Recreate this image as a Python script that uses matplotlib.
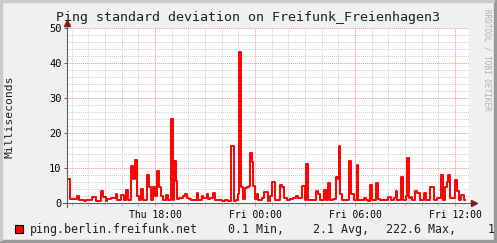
import matplotlib
matplotlib.use("Agg")
import matplotlib.pyplot as plt
from matplotlib.patches import Rectangle

# hours since Thu 12:00, each value holds until the next time (5-min rrd steps merged)
hours = [0.72, 0.90, 1.32, 1.44, 1.74, 1.86, 2.22, 2.46, 2.76, 2.88,
         3.06, 3.12, 3.36, 3.66, 3.72, 3.96, 4.14, 4.26, 4.38, 4.56,
         4.68, 4.80, 4.92, 5.04, 5.16, 5.28, 5.52, 5.64, 5.76, 5.88,
         6.00, 6.12, 6.24, 6.36, 6.48, 6.66, 6.78, 6.96, 7.08, 7.14,
         7.26, 7.32, 7.44, 7.68, 7.80, 7.92, 8.04, 8.16, 8.34, 8.52,
         8.58, 8.82, 8.88, 9.12, 9.18, 9.30, 9.48, 9.60, 9.72, 10.02,
         10.20, 10.38, 10.56, 10.74, 10.86, 10.98, 11.04, 11.16, 11.28, 11.40,
         11.52, 11.64, 11.70, 11.82, 11.88, 12.00, 12.12, 12.18, 12.42, 12.54,
         12.78, 12.90, 13.02, 13.20, 13.50, 13.62, 13.74, 13.92, 14.10, 14.28,
         14.46, 14.58, 14.82, 15.00, 15.06, 15.18, 15.30, 15.60, 15.66, 15.78,
         15.90, 16.14, 16.26, 16.38, 16.50, 16.68, 16.86, 16.98, 17.04, 17.10,
         17.22, 17.34, 17.46, 17.64, 17.76, 17.94, 18.12, 18.18, 18.42, 18.54,
         18.66, 18.78, 18.90, 19.02, 19.26, 19.38, 19.50, 19.68, 19.98, 20.16,
         20.34, 20.46, 20.52, 20.76, 20.88, 21.06, 21.12, 21.24, 21.36, 21.42,
         21.60, 21.72, 21.90, 22.14, 22.26, 22.50, 22.74, 22.92, 23.16, 23.28,
         23.40, 23.52, 23.58, 23.70, 24.00, 24.12, 24.24, 24.36, 24.54, 24.60]
stddev_ms = [7.0, 1.1, 2.1, 1.0, 0.5, 0.9, 1.8, 0.7, 3.4, 1.6,
             0.5, 1.2, 1.4, 2.5, 1.0, 2.2, 1.0, 3.6, 1.0, 10.6,
             7.0, 12.3, 2.0, 1.0, 4.0, 1.0, 8.0, 4.5, 1.0, 4.7,
             2.0, 9.1, 4.7, 2.0, 1.0, 2.4, 0.8, 23.9, 0.8, 12.0,
             6.4, 1.2, 1.4, 2.0, 2.5, 1.4, 1.2, 0.8, 1.0, 3.0,
             1.0, 2.0, 1.3, 2.5, 1.2, 1.4, 3.0, 1.0, 0.8, 0.6,
             0.9, 0.6, 16.3, 0.5, 1.0, 2.5, 43.1, 4.7, 1.2, 4.2,
             4.5, 5.0, 14.4, 11.8, 5.0, 1.2, 2.5, 1.0, 1.3, 3.2,
             0.5, 2.0, 5.9, 1.0, 5.1, 4.7, 1.5, 1.0, 1.2, 1.4,
             2.0, 1.3, 4.9, 1.0, 11.1, 1.0, 0.8, 1.0, 3.5, 2.5,
             1.0, 3.7, 1.0, 5.6, 1.0, 1.1, 7.5, 7.0, 16.3, 2.5,
             1.0, 0.8, 1.0, 12.0, 2.5, 1.0, 10.9, 1.0, 0.8, 1.4,
             0.9, 0.7, 5.1, 1.0, 5.6, 1.2, 0.8, 1.0, 1.8, 1.0,
             1.5, 3.5, 1.0, 7.3, 1.0, 2.0, 13.0, 1.5, 1.8, 1.0,
             3.5, 3.0, 1.0, 2.8, 1.0, 4.7, 1.0, 1.5, 8.0, 1.0,
             4.7, 6.0, 8.0, 1.5, 6.6, 3.5, 1.0, 2.2, 0.9, 0.9]

x_ticks = [6, 12, 18, 24]
x_labels = ["Thu 18:00", "Fri 00:00", "Fri 06:00", "Fri 12:00"]
y_ticks = [0, 10, 20, 30, 40, 50]

legend_name = "ping.berlin.freifunk.net"
legend_stats = ["0.1 Min,", "2.1 Avg,", "222.6 Max,", "1.2 Last"]

plt.rcParams['font.family'] = ['DejaVu Sans Mono']

W, H = 497, 243
fig = plt.figure(figsize=(W / 100, H / 100), dpi=100, facecolor='#F0F0F0')

def fx(px):
    return px / W

def fy(py):
    return 1 - py / H

# plot area in pixels: x 67..469, y 28..203
ax = fig.add_axes([fx(67), fy(203), fx(469) - fx(67), fy(28) - fy(203)])
ax.set_facecolor('white')
ax.set_xlim(0.72, 24.84)
ax.set_ylim(0, 50)
for s in ax.spines.values():
    s.set_visible(False)

# grid
for h in range(1, 25):
    if h % 6 == 0:
        continue
    ax.axvline(h, color='#D0D0D0', lw=0.7, ls=(0, (1, 1)), zorder=0)
for v in range(2, 51, 2):
    if v % 10 == 0:
        continue
    ax.axhline(v, color='#D0D0D0', lw=0.7, ls=(0, (1, 1)), zorder=0)
for h in x_ticks:
    ax.axvline(h, color='#F09090', lw=0.7, ls=(0, (1, 1)), zorder=0)
for v in y_ticks[1:]:
    ax.axhline(v, color='#F09090', lw=0.7, ls=(0, (1, 1)), zorder=0)

ax.step(hours, stddev_ms, where='post', color='#FF0000', lw=1.4, zorder=3)

ax.set_xticks(x_ticks)
ax.set_xticklabels(x_labels, fontsize=7)
ax.set_xticks(range(1, 25), minor=True)
ax.set_yticks(y_ticks)
ax.set_yticklabels([str(v) for v in y_ticks], fontsize=7.5)
ax.tick_params(axis='x', length=2, width=0.7, color='#F09090', pad=3)
ax.tick_params(axis='x', which='minor', length=2, width=0.7, color='#C0C0C0')
ax.tick_params(axis='y', length=2, width=0.7, color='#606060', pad=2)

# axes with arrows
ax.plot([-0.01, 1.008], [0, 0], transform=ax.transAxes, color='#606060', lw=0.8, clip_on=False, zorder=4)
ax.plot([0, 0], [-0.02, 1.02], transform=ax.transAxes, color='#606060', lw=0.8, clip_on=False, zorder=4)
ax.plot([1.012], [0], marker='>', ms=4, color='#7F2020', transform=ax.transAxes, clip_on=False, zorder=5)
ax.plot([0], [1.03], marker='^', ms=4, color='#7F2020', transform=ax.transAxes, clip_on=False, zorder=5)

fig.text(fx(248), fy(18), "Ping standard deviation on Freifunk_Freienhagen3",
         ha='center', va='center', fontsize=9.6, color='#202020')
fig.text(fx(10), fy(117), "Milliseconds", rotation=90, ha='center', va='center',
         fontsize=8.2, color='#202020')
fig.text(fx(487), fy(60), "RRDTOOL / TOBI OETIKER", rotation=270, ha='center', va='center',
         fontsize=5.5, color='#B0B0B0')

# legend
fig.patches.append(Rectangle((fx(15), fy(233)), fx(8), 8 / H, transform=fig.transFigure,
                             facecolor='#FF0000', edgecolor='black', lw=0.8))
fig.text(fx(30), fy(229), legend_name, ha='left', va='center', fontsize=8.4, color='#202020')
for px, s in zip([228, 313, 386, 488], legend_stats):
    fig.text(fx(px), fy(229), s, ha='left', va='center', fontsize=8.4, color='#202020')

# frame shading
fig.patches.append(Rectangle((0, 0), 1, 3 / H, transform=fig.transFigure, color='#999999'))
fig.patches.append(Rectangle((1 - 3 / W, 0), 3 / W, 1, transform=fig.transFigure, color='#999999'))
fig.patches.append(Rectangle((0, 1 - 2 / H), 1 - 3 / W, 2 / H, transform=fig.transFigure, color='#CBCBCB'))
fig.patches.append(Rectangle((0, 3 / H), 2 / W, 1 - 5 / H, transform=fig.transFigure, color='#CBCBCB'))

fig.savefig("out.png", dpi=100, facecolor=fig.get_facecolor())
